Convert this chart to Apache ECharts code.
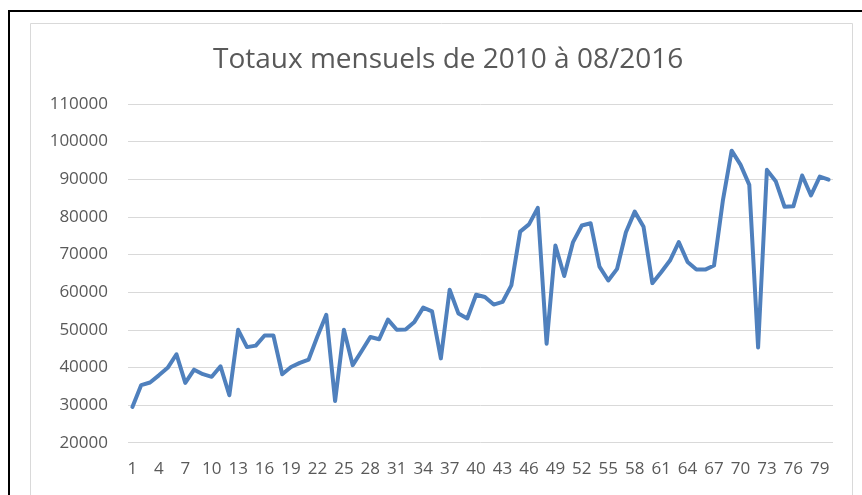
<!DOCTYPE html>
<html>
<head>
<meta charset="utf-8">
<script src="https://cdn.jsdelivr.net/npm/echarts@6/dist/echarts.min.js"></script>
<style>
html,body{margin:0;padding:0;background:#fff;}
#chart{width:862px;height:495px;}
</style>
</head>
<body>
<div id="chart"></div>
<script>
const titleText = 'Totaux mensuels de 2010 à 08/2016';
const months = [];
for (let i = 1; i <= 80; i++) months.push(String(i));
const totals = [
  29500, 35300, 36000, 37900, 39900, 43500, 35900, 39400, 38200, 37500,
  40300, 32600, 50000, 45400, 45800, 48500, 48500, 38200, 40100, 41200,
  42100, 48300, 54000, 31100, 50000, 40600, 44300, 48100, 47500, 52700,
  50000, 50050, 52100, 55900, 54900, 42400, 60650, 54300, 53000, 59300,
  58700, 56700, 57400, 61800, 76100, 78000, 82400, 46300, 72400, 64300,
  73300, 77700, 78300, 66800, 63100, 66200, 75900, 81400, 77400, 62400,
  65300, 68400, 73300, 68000, 66000, 66000, 67100, 84300, 97600, 93900,
  88500, 45300, 92500, 89500, 82700, 82800, 91000, 85700, 90700, 89900
];
const yMin = 20000, yMax = 110000, yStep = 10000;

const chart = echarts.init(document.getElementById('chart'), null, {renderer: 'canvas'});
chart.setOption({
  backgroundColor: '#ffffff',
  animation: false,
  graphic: [
    {type: 'rect', silent: true, shape: {x: 9, y: 11, width: 900, height: 600},
     style: {fill: 'none', stroke: '#000000', lineWidth: 2}},
    {type: 'rect', silent: true, shape: {x: 30.5, y: 23.5, width: 822, height: 600},
     style: {fill: 'none', stroke: '#d9d9d9', lineWidth: 1}}
  ],
  title: {
    text: titleText,
    left: 208,
    top: 41,
    padding: 5,
    textStyle: {fontFamily: 'Open Sans', fontWeight: 'normal', fontSize: 28, color: '#595959'}
  },
  grid: {left: 128, right: 29, top: 104, bottom: 52.3, containLabel: false},
  xAxis: {
    type: 'category',
    data: months,
    boundaryGap: true,
    axisLine: {show: false},
    axisTick: {show: false},
    axisLabel: {interval: 2, margin: 18, fontFamily: 'Open Sans', fontSize: 17, color: '#595959'}
  },
  yAxis: {
    type: 'value',
    min: yMin, max: yMax, interval: yStep,
    axisLine: {show: false},
    axisTick: {show: false},
    axisLabel: {margin: 20, fontFamily: 'Open Sans', fontSize: 17, color: '#595959',
                formatter: function (v) { return String(v); }},
    splitLine: {lineStyle: {color: '#d9d9d9', width: 1}}
  },
  series: [{
    type: 'line',
    data: totals,
    symbol: 'none',
    lineStyle: {color: '#4f80bd', width: 4, join: 'round', cap: 'round'}
  }]
});
</script>
</body>
</html>
